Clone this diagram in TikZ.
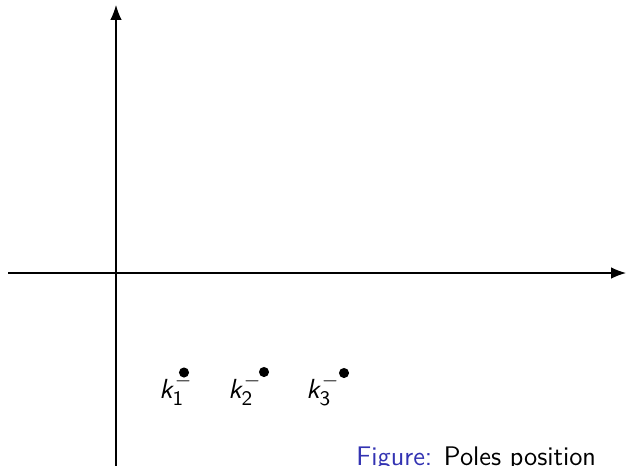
\documentclass[tikz,border=0pt]{standalone}
\usetikzlibrary{arrows.meta}
\renewcommand{\familydefault}{\sfdefault}
\DeclareMathAlphabet{\mathsfit}{OT1}{cmss}{m}{sl}
\definecolor{structblue}{rgb}{0.2,0.2,0.7}
\newcommand{\lowminus}{\raisebox{-1.6pt}{$\scriptstyle-$}}
\tikzset{
  axis/.style={line width=0.5pt,-{Latex[length=6.5pt,width=5pt]}},
  pole/.style={circle,fill=black,inner sep=0pt,minimum size=4.4pt},
  polelabel/.style={anchor=base west,inner sep=0pt,font=\fontsize{13}{15}\selectfont}
}
\begin{document}
\begin{tikzpicture}[x=0.435pt,y=-0.435pt]
\useasboundingbox (0,0) rectangle (627,465);
\clip (0,0) rectangle (627,465);
\coordinate (xs) at (8,273);
\coordinate (xe) at (626,273);
\coordinate (ys) at (116,480);
\coordinate (ye) at (116,5);
\draw[axis] (xs) -- (xe);
\draw[axis] (ys) -- (ye);
\node[pole] (p1) at (184,372.5) {};
\node[pole] (p2) at (264,372) {};
\node[pole] (p3) at (344,373) {};
\node[polelabel] (l1) at (159,398) {$\mathsfit{k}_{\mathsf{1}}^{\lowminus}$};
\node[polelabel] (l2) at (228,398) {$\mathsfit{k}_{\mathsf{2}}^{\lowminus}$};
\node[polelabel] (l3) at (306,398) {$\mathsfit{k}_{\mathsf{3}}^{\lowminus}$};
\node[anchor=base west,inner sep=0pt,font=\fontsize{11.7}{14}\selectfont] (cap) at (356,465.5) {\textcolor{structblue}{Figure:} Poles position};
\end{tikzpicture}
\end{document}
